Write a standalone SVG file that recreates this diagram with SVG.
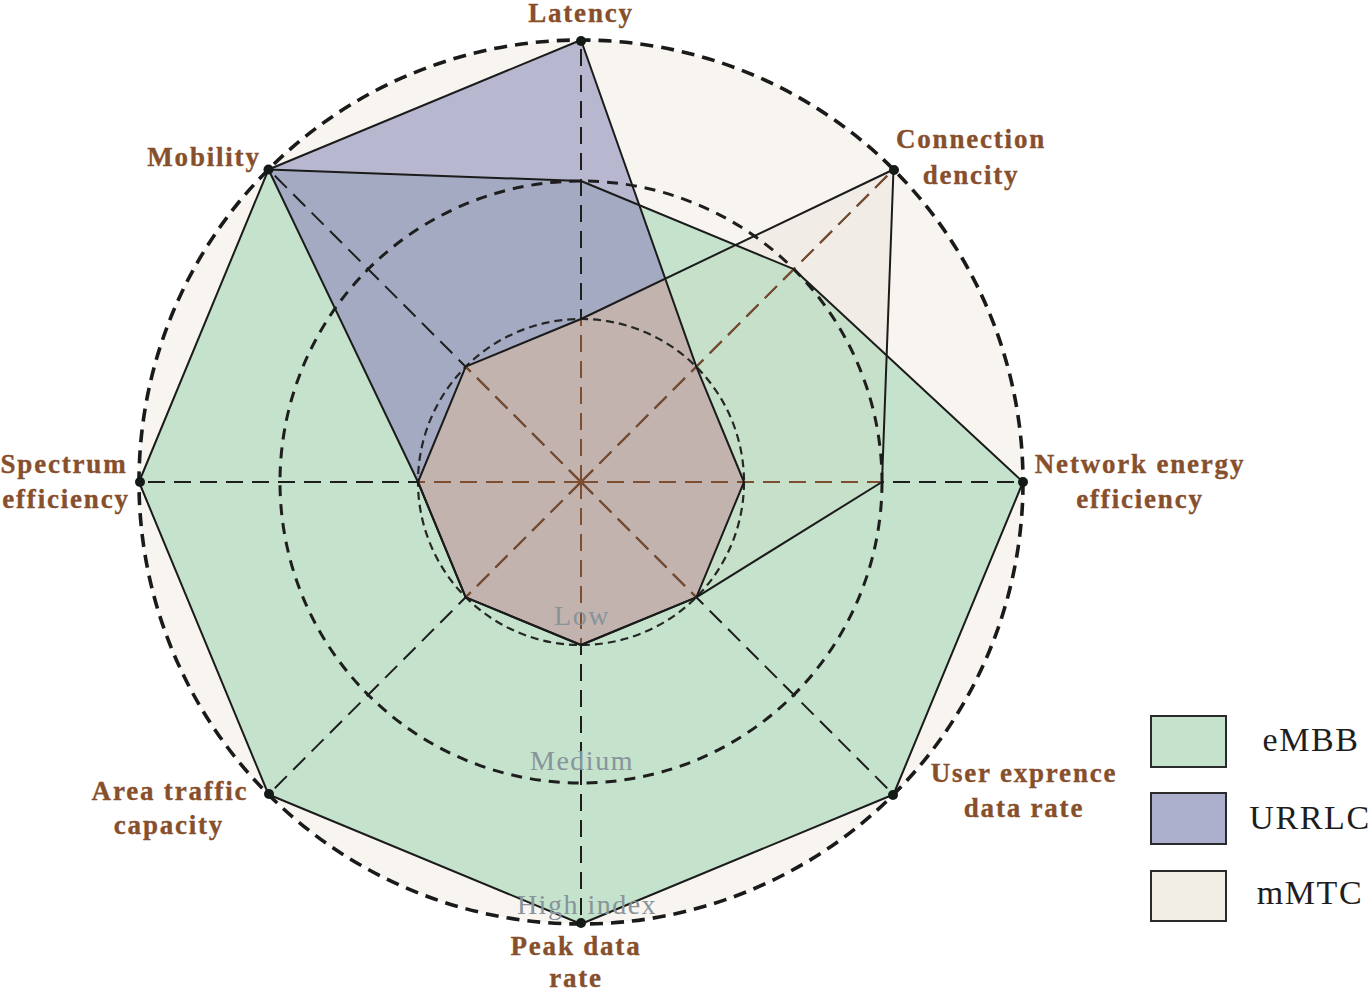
<svg xmlns="http://www.w3.org/2000/svg" xmlns:xlink="http://www.w3.org/1999/xlink" width="1370" height="993" viewBox="0 0 1370 993">
<style>
.lbl{font-family:"Liberation Serif","Times New Roman",serif;font-weight:bold;font-size:27px;fill:#874f2c;stroke:#874f2c;stroke-width:0.35px;letter-spacing:1.8px;text-anchor:middle}
.lvl{font-family:"Liberation Serif","Times New Roman",serif;font-size:28px;fill:#88939a;letter-spacing:1.5px;text-anchor:middle}
.leg{font-family:"Liberation Serif","Times New Roman",serif;font-size:34px;fill:#1e1e1e;letter-spacing:1.6px;text-anchor:middle}
.edge{fill:none;stroke:#1b1b1b;stroke-width:2;stroke-linejoin:round}
.axis{stroke:#1e1e1e;stroke-width:2;stroke-dasharray:17 9;fill:none}
.axisb{stroke:#7d4e30;stroke-width:2;stroke-dasharray:17 9;fill:none}
.dot{fill:#141a16}
.box{stroke:#2a2a2a;stroke-width:2}
</style>
<defs>
<polygon id="pG" points="581,181 793.8,269.2 1023,482 893.5,794.5 581,924 268.5,794.5 139,482 268.5,169.5"/>
<polygon id="pU" points="581,40 696.3,366.7 744,482 696.3,597.3 581,645 465.7,597.3 418,482 268.5,169.5"/>
<polygon id="pM" points="581,319 893.5,169.5 882,482 696.3,597.3 581,645 465.7,597.3 418,482 465.7,366.7"/>
<clipPath id="cG"><use xlink:href="#pG"/></clipPath>
<clipPath id="cU"><use xlink:href="#pU"/></clipPath>
<clipPath id="cM"><use xlink:href="#pM"/></clipPath>
</defs>

<g id="chart-background">
<circle cx="581" cy="482" r="442" fill="#f8f5f1"/>
</g>

<g id="series-eMBB">
<use xlink:href="#pG" fill="#c4e2cc"/>
</g>
<g id="series-URRLC">
<use xlink:href="#pU" fill="#b7b8cf"/>
<use xlink:href="#pU" fill="#a4aac2" clip-path="url(#cG)"/>
</g>
<g id="series-mMTC">
<use xlink:href="#pM" fill="#f1ede6"/>
<use xlink:href="#pM" fill="#c7e0ca" clip-path="url(#cG)"/>
<use xlink:href="#pM" fill="#c2b3af" clip-path="url(#cU)"/>
</g>

<g id="grid">
<circle cx="581" cy="482" r="163" fill="none" stroke="#262626" stroke-width="2.2" stroke-dasharray="8 5"/>
<circle cx="581" cy="482" r="301" fill="none" stroke="#1e1e1e" stroke-width="3" stroke-dasharray="11 8"/>
</g>

<g id="connectors">
<g class="axis">
<line x1="581" y1="482" x2="581" y2="40"/>
<line x1="581" y1="482" x2="893.5" y2="169.5"/>
<line x1="581" y1="482" x2="1023" y2="482"/>
<line x1="581" y1="482" x2="893.5" y2="794.5"/>
<line x1="581" y1="482" x2="581" y2="924"/>
<line x1="581" y1="482" x2="268.5" y2="794.5"/>
<line x1="581" y1="482" x2="139" y2="482"/>
<line x1="581" y1="482" x2="268.5" y2="169.5"/>
</g>
<g class="axisb" clip-path="url(#cM)">
<line x1="581" y1="482" x2="581" y2="40"/>
<line x1="581" y1="482" x2="893.5" y2="169.5"/>
<line x1="581" y1="482" x2="1023" y2="482"/>
<line x1="581" y1="482" x2="893.5" y2="794.5"/>
<line x1="581" y1="482" x2="581" y2="924"/>
<line x1="581" y1="482" x2="268.5" y2="794.5"/>
<line x1="581" y1="482" x2="139" y2="482"/>
<line x1="581" y1="482" x2="268.5" y2="169.5"/>
</g>
</g>

<g id="outlines">
<use xlink:href="#pG" class="edge"/>
<use xlink:href="#pU" class="edge"/>
<use xlink:href="#pM" class="edge"/>
</g>

<g id="outer-ring">
<circle cx="581" cy="482" r="442" fill="none" stroke="#1a1a1a" stroke-width="3.6" stroke-dasharray="13 8"/>
</g>

<g id="node-latency"><circle class="dot" cx="581" cy="41" r="5"/><text class="lbl" x="581" y="22">Latency</text></g>
<g id="node-connection-dencity"><circle class="dot" cx="894" cy="170" r="5"/><text class="lbl" x="971" y="148">Connection</text><text class="lbl" x="971" y="184">dencity</text></g>
<g id="node-network-energy"><circle class="dot" cx="1023" cy="482" r="5"/><text class="lbl" x="1140" y="473">Network energy</text><text class="lbl" x="1140" y="508">efficiency</text></g>
<g id="node-user-exprence"><circle class="dot" cx="893" cy="795" r="5"/><text class="lbl" x="1024" y="782">User exprence</text><text class="lbl" x="1024" y="817">data rate</text></g>
<g id="node-peak-data-rate"><circle class="dot" cx="581" cy="923" r="5"/><text class="lbl" x="576" y="955">Peak data</text><text class="lbl" x="576" y="987">rate</text></g>
<g id="node-area-traffic"><circle class="dot" cx="269" cy="794" r="5"/><text class="lbl" x="170" y="800">Area traffic</text><text class="lbl" x="169" y="834">capacity</text></g>
<g id="node-spectrum"><circle class="dot" cx="140" cy="482" r="5"/><text class="lbl" x="64" y="473">Spectrum</text><text class="lbl" x="66" y="508">efficiency</text></g>
<g id="node-mobility"><circle class="dot" cx="268.5" cy="169.5" r="5"/><text class="lbl" x="204" y="166">Mobility</text></g>

<g id="levels">
<text class="lvl" x="582" y="625">Low</text>
<text class="lvl" x="582" y="770">Medium</text>
<text class="lvl" x="587" y="914">High index</text>
</g>

<g id="legend">
<g id="legend-eMBB"><rect class="box" x="1151" y="716" width="75" height="51" fill="#c4e2cc"/><text class="leg" x="1311" y="751">eMBB</text></g>
<g id="legend-URRLC"><rect class="box" x="1151" y="793" width="75" height="51" fill="#abafcb"/><text class="leg" x="1310" y="829">URRLC</text></g>
<g id="legend-mMTC"><rect class="box" x="1151" y="871" width="75" height="50" fill="#f1eee6"/><text class="leg" x="1310" y="904">mMTC</text></g>
</g>
</svg>
